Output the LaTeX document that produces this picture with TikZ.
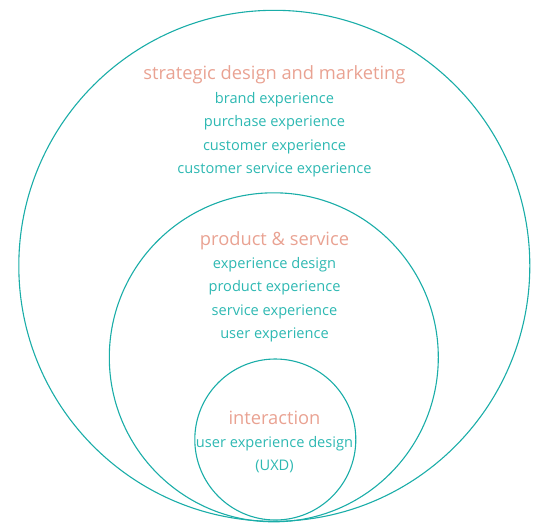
\documentclass[tikz,border=0pt]{standalone}
\usepackage{fontspec}
\setmainfont{Open Sans}
\definecolor{teal1}{HTML}{1AADA8}
\definecolor{tealtxt}{HTML}{2DB8B2}
\definecolor{salmon}{HTML}{E9A292}
\begin{document}
\begin{tikzpicture}[x=1pt,y=-1pt,
  ring/.style={draw=teal1,line width=1.1pt},
  head/.style={anchor=base,text=salmon,font=\fontsize{18.3}{20}\selectfont,inner sep=0pt},
  item/.style={anchor=base,text=tealtxt,font=\fontsize{14.6}{16}\selectfont,inner sep=0pt}]
\useasboundingbox (0,0) rectangle (534,522);
\node[ring,circle,minimum size=511pt,inner sep=0pt] (outer) at (274.3,265.8) {};
\node[ring,circle,minimum size=329pt,inner sep=0pt] (middle) at (273.8,357.3) {};
\node[ring,circle,minimum size=161pt,inner sep=0pt] (inner) at (275.3,439.5) {};
\node[head] (h1) at (274.4,79) {strategic design and marketing};
\node[item] (a1) at (274.5,103) {brand experience};
\node[item] (a2) at (274.5,126.7) {purchase experience};
\node[item] (a3) at (274.5,150.2) {customer experience};
\node[item] (a4) at (274.5,173.7) {customer service experience};
\node[head] (h2) at (274.5,245) {product \& service};
\node[item] (b1) at (274.5,268.5) {experience design};
\node[item] (b2) at (274.5,291.8) {product experience};
\node[item] (b3) at (274.5,315.2) {service experience};
\node[item] (b4) at (274.5,338.6) {user experience};
\node[head] (h3) at (274.5,424) {interaction};
\node[item] (c1) at (274.5,447.6) {user experience design};
\node[item] (c2) at (274.5,470.8) {(UXD)};
\end{tikzpicture}
\end{document}
